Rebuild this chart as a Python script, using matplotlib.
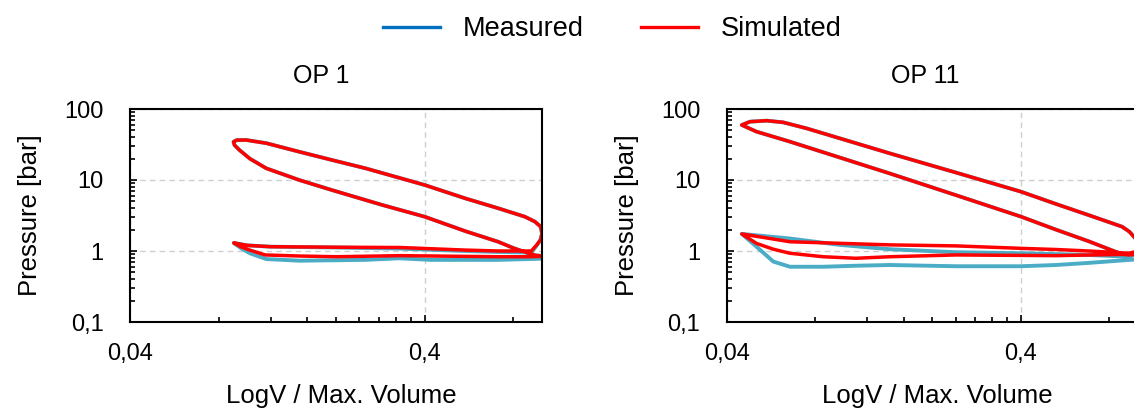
import matplotlib
matplotlib.use("Agg")
import matplotlib.pyplot as plt
from matplotlib.lines import Line2D
from matplotlib.ticker import FixedLocator, LogLocator, FuncFormatter, NullFormatter

plt.rcParams['font.family'] = ['Liberation Sans', 'DejaVu Sans']

# --- data (V / Vmax, pressure in bar) ---
TITLES = ["OP 1", "OP 11"]

# high pressure loop: compression from BDC, TDC, expansion back to BDC
OP1_HP_V = [1.0, 0.95, 0.9, 0.8, 0.71, 0.55, 0.4, 0.287, 0.194, 0.15, 0.116, 0.102, 0.094, 0.0905, 0.0898,
            0.092, 0.099, 0.116, 0.15, 0.194, 0.252, 0.4, 0.55, 0.71, 0.875, 0.946, 0.99, 1.0]
OP1_HP_P = [0.85, 0.87, 0.93, 1.1, 1.35, 1.9, 3.04, 4.45, 7.2, 10, 14.6, 20, 26.5, 31, 34.5,
            36.4, 36.6, 33, 25, 19.1, 14.6, 8.5, 5.5, 4.0, 3.04, 2.59, 2.2, 1.77]
# gas exchange: exhaust stroke then intake stroke
OP1_SIM_GX_V = [0.99, 0.96, 0.92, 0.71, 0.55, 0.33, 0.2, 0.12, 0.1, 0.09,
                0.095, 0.102, 0.115, 0.15, 0.2, 0.33, 0.55, 0.71, 0.9, 1.0]
OP1_SIM_GX_P = [1.45, 1.22, 1.0, 1.0, 1.03, 1.12, 1.13, 1.15, 1.2, 1.3,
                1.15, 1.03, 0.88, 0.85, 0.83, 0.86, 0.84, 0.83, 0.83, 0.84]
OP1_MEA_GX_V = [0.99, 0.96, 0.92, 0.71, 0.55, 0.33, 0.2, 0.12, 0.1, 0.09,
                0.095, 0.102, 0.116, 0.15, 0.252, 0.327, 0.42, 0.71, 1.0]
OP1_MEA_GX_P = [1.45, 1.2, 0.95, 0.97, 1.0, 1.08, 1.12, 1.15, 1.2, 1.3,
                1.1, 0.93, 0.77, 0.73, 0.75, 0.79, 0.75, 0.75, 0.78]

OP11_HP_V = [1.0, 0.93, 0.883, 0.68, 0.526, 0.4, 0.241, 0.143, 0.0656, 0.0505, 0.045,
             0.048, 0.0547, 0.0622, 0.0747, 0.143, 0.241, 0.4, 0.526, 0.68, 0.883, 0.935, 0.98, 1.0]
OP11_HP_P = [0.9, 0.88, 0.9, 1.37, 2.0, 3.05, 6.1, 12.4, 34.7, 48, 59.5,
             66.3, 68.5, 64.9, 53.4, 23.8, 12.7, 6.85, 4.6, 3.2, 2.2, 1.87, 1.5, 1.2]
OP11_SIM_GX_V = [0.98, 0.935, 0.68, 0.526, 0.4, 0.241, 0.143, 0.0656, 0.045,
                 0.0505, 0.0576, 0.0656, 0.0851, 0.11, 0.143, 0.241, 0.526, 0.935, 1.0]
OP11_SIM_GX_P = [0.98, 0.93, 1.0, 1.05, 1.09, 1.18, 1.22, 1.35, 1.74,
                 1.28, 1.06, 0.93, 0.83, 0.79, 0.83, 0.88, 0.86, 0.9, 0.9]
OP11_MEA_GX_V = [0.98, 0.935, 0.68, 0.4, 0.241, 0.143, 0.0968, 0.0656, 0.045,
                 0.0505, 0.0576, 0.0656, 0.0851, 0.11, 0.143, 0.241, 0.4, 0.526, 0.68, 0.935, 1.0]
OP11_MEA_GX_P = [0.9, 0.83, 0.88, 0.93, 0.96, 1.06, 1.22, 1.5, 1.74,
                 1.15, 0.71, 0.6, 0.6, 0.62, 0.635, 0.61, 0.61, 0.635, 0.68, 0.75, 0.76]

MEASURED = [(OP1_HP_V + OP1_MEA_GX_V, OP1_HP_P + OP1_MEA_GX_P),
            (OP11_HP_V + OP11_MEA_GX_V, OP11_HP_P + OP11_MEA_GX_P)]
SIMULATED = [(OP1_HP_V + OP1_SIM_GX_V, OP1_HP_P + OP1_SIM_GX_P),
             (OP11_HP_V + OP11_SIM_GX_V, OP11_HP_P + OP11_SIM_GX_P)]

MEAS_COLOR = '#4BACC6'
MEAS_LEGEND_COLOR = '#0070C0'
SIM_COLOR = '#FF0000'


def comma_fmt(v, pos):
    return ('%g' % v).replace('.', ',')


fig = plt.figure(figsize=(11.34, 4.12), dpi=100)
W, H = 1134, 412
ax_rects = [[130 / W, 90 / H, 412 / W, 213 / H],
            [726.7 / W, 90 / H, 411.3 / W, 213 / H]]
title_x = [0.464, 0.482]

for i, rect in enumerate(ax_rects):
    ax = fig.add_axes(rect)
    mv, mp = MEASURED[i]
    sv, sp = SIMULATED[i]
    ax.plot(mv, mp, color=MEAS_COLOR, lw=2.8, solid_joinstyle='round', solid_capstyle='round')
    ax.plot(sv, sp, color=SIM_COLOR, lw=2.5, solid_joinstyle='round', solid_capstyle='round')

    ax.set_xscale('log')
    ax.set_yscale('log')
    ax.set_xlim(0.04, 1.0)
    ax.set_ylim(0.1, 100)

    ax.xaxis.set_major_locator(FixedLocator([0.04, 0.4, 4]))
    ax.xaxis.set_minor_locator(FixedLocator([0.04 * k for k in range(2, 10)] + [0.8]))
    ax.yaxis.set_major_locator(LogLocator(base=10))
    ax.yaxis.set_minor_locator(LogLocator(base=10, subs=range(2, 10)))
    ax.xaxis.set_major_formatter(FuncFormatter(comma_fmt))
    ax.yaxis.set_major_formatter(FuncFormatter(comma_fmt))
    ax.xaxis.set_minor_formatter(NullFormatter())
    ax.yaxis.set_minor_formatter(NullFormatter())

    ax.tick_params(which='both', direction='in', top=False, right=False, width=1.2,
                   labelsize=17, colors='black')
    ax.tick_params(axis='y', pad=19)
    ax.tick_params(axis='x', pad=15)
    ax.tick_params(which='major', length=5)
    ax.tick_params(which='minor', length=3.5)

    ax.grid(True, which='major', color='#cfcfcf', linestyle=(0, (4, 3)), linewidth=1)
    for sp_ in ax.spines.values():
        sp_.set_linewidth(1.5)

    ax.set_title(TITLES[i], fontsize=18, pad=19, x=title_x[i])
    ax.set_xlabel('LogV / Max. Volume', fontsize=18.5, labelpad=14)
    ax.xaxis.label.set_x(0.513)
    ax.set_ylabel('Pressure [bar]', fontsize=18.5, labelpad=16)

handles = [Line2D([], [], color=MEAS_LEGEND_COLOR, lw=2.4),
           Line2D([], [], color=SIM_COLOR, lw=2.4)]
fig.legend(handles, ['Measured', 'Simulated'], loc='upper center',
           bbox_to_anchor=(0.54, 1.02), ncol=2, frameon=False, fontsize=19.5,
           handlelength=2.1, handletextpad=0.85, columnspacing=2.1)

fig.savefig('out.png', dpi=100)
